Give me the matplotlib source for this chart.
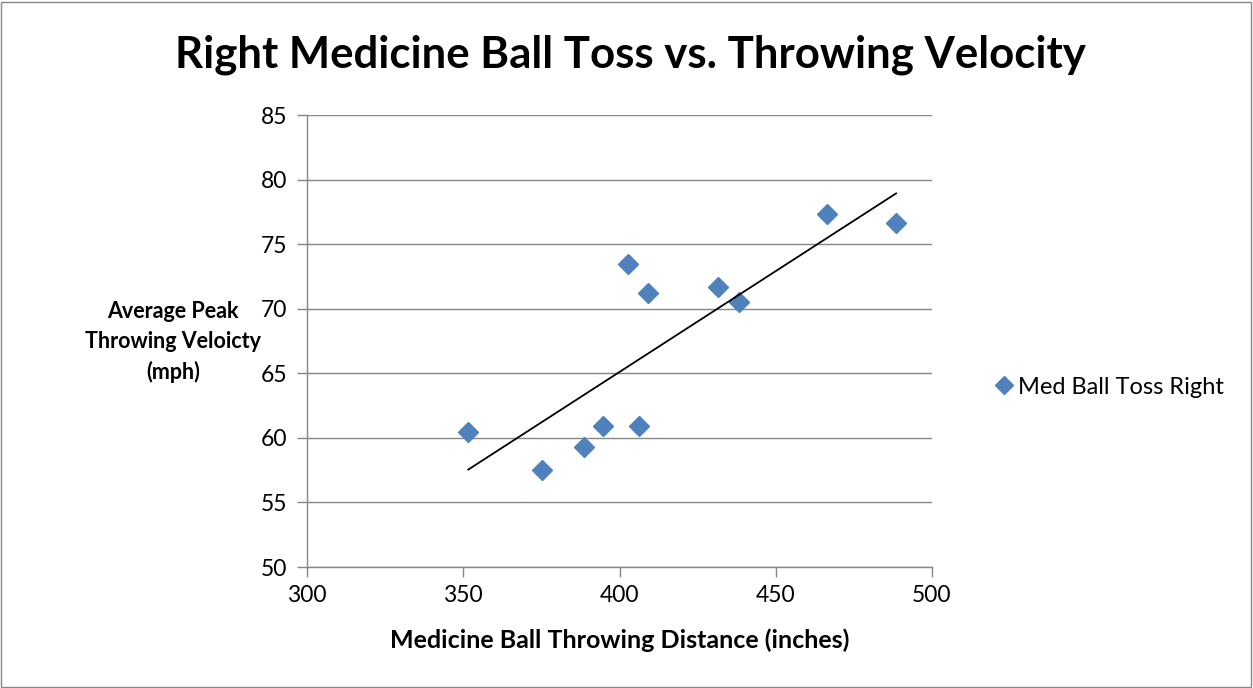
import numpy as np
import matplotlib
matplotlib.use("Agg")
import matplotlib.pyplot as plt
from matplotlib.patches import Rectangle
from matplotlib.lines import Line2D

# Throwing distance (inches) and average peak velocity (mph)
distance = [351.6, 375.2, 388.6, 394.6, 402.6, 406.1, 409.1, 431.6, 438.1, 466.5, 488.5]
velocity = [60.45, 57.5, 59.3, 60.9, 73.45, 60.9, 71.25, 71.7, 70.55, 77.3, 76.65]

x_ticks = [300, 350, 400, 450, 500]
y_ticks = [50, 55, 60, 65, 70, 75, 80, 85]

title = "Right Medicine Ball Toss vs. Throwing Velocity"
x_label = "Medicine Ball Throwing Distance (inches)"
y_label = "Average Peak\nThrowing Veloicty\n(mph)"
series_name = "Med Ball Toss Right"

plt.rcParams['font.family'] = ['Lato', 'DejaVu Sans']

W, H = 1253, 688
fig = plt.figure(figsize=(W / 100, H / 100), dpi=100)
fig.patch.set_facecolor('white')

# chart border
fig.add_artist(Rectangle((1 / W, 1 / H), 1 - 3 / W, 1 - 3 / H, transform=fig.transFigure,
                         fill=False, edgecolor='#888888', linewidth=1.0))

ax = fig.add_axes([307 / W, (H - 567) / H, (932 - 307) / W, (567 - 115) / H])

grid_color = '#868686'
ax.set_xlim(300, 500)
ax.set_ylim(50, 85)
ax.set_xticks(x_ticks)
ax.set_yticks(y_ticks)
ax.yaxis.grid(True, color=grid_color, linewidth=1.0)
ax.set_axisbelow(True)
for side in ['top', 'right']:
    ax.spines[side].set_visible(False)
for side in ['left', 'bottom']:
    ax.spines[side].set_color(grid_color)
    ax.spines[side].set_linewidth(1.0)
ax.tick_params(axis='both', direction='out', length=7, width=1.0, color=grid_color,
               labelsize=16.5, labelcolor='black')
ax.tick_params(axis='y', pad=7)
ax.tick_params(axis='x', pad=6)

ax.plot(distance, velocity, linestyle='none', marker='D', markersize=10,
        color='#4F81BD', markeredgecolor='#4F81BD', zorder=3, clip_on=False)

# linear trendline over the data range
slope, intercept = np.polyfit(distance, velocity, 1)
xs = np.array([min(distance), max(distance)])
ax.plot(xs, slope * xs + intercept, color='black', linewidth=1.3, zorder=4)

fig.text(630 / W, 1 - 55 / H, title, ha='center', va='center',
         fontsize=31.5, fontweight='bold')
fig.text(620 / W, 1 - 640 / H, x_label, ha='center', va='center',
         fontsize=18, fontweight='bold')
fig.text(173 / W, 1 - 342 / H, y_label, ha='center', va='center',
         fontsize=15.5, fontweight='bold', linespacing=1.5)

handle = Line2D([], [], linestyle='none', marker='D', markersize=9,
                color='#4F81BD')
fig.legend([handle], [series_name], loc='center left',
           bbox_to_anchor=(990 / W, 1 - 387 / H), frameon=False,
           fontsize=17, handletextpad=0.0, borderaxespad=0, borderpad=0,
           handlelength=1.2)

fig.savefig('out.png', dpi=100, facecolor='white')
